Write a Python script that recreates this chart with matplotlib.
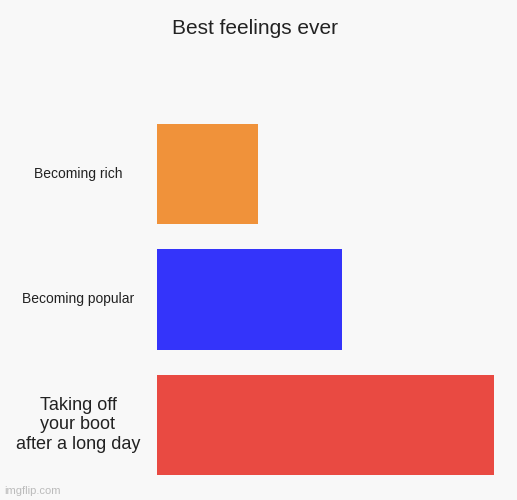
import matplotlib
matplotlib.use("Agg")
import matplotlib.pyplot as plt
import matplotlib.transforms as mt

categories = ["Becoming rich", "Becoming popular", "Taking off\nyour boot\nafter a long day"]
values = [30, 55, 100]
colors = ["#f0923a", "#3434fa", "#e94a42"]
label_sizes = [10, 10, 13]

plt.rcParams['font.family'] = ['Liberation Sans', 'DejaVu Sans']
fig = plt.figure(figsize=(5.17, 5.0), dpi=100, facecolor="#f8f8f8")
ax = fig.add_axes([157/517, 0.05, (494-157)/517, 0.702])
ax.set_facecolor("#f8f8f8")
pos = list(range(len(categories)))
ax.barh(pos, values, height=0.797, color=colors)
ax.set_xlim(0, 100)
ax.set_ylim(2.3985, -0.3985)
ax.axis("off")
tr = mt.blended_transform_factory(fig.transFigure, ax.transData)
for p, c, s in zip(pos, categories, label_sizes):
    ax.text(78/517, p, c, transform=tr, ha="center", va="center", fontsize=s, color="#222222")
fig.text(255/517, 1-28/500, "Best feelings ever", ha="center", va="center", fontsize=15, color="#222222")
fig.text(4/517, 1-491/500, "imgflip.com", ha="left", va="center", fontsize=8, color="#bbbbbb")
fig.savefig("out.png", dpi=100, facecolor=fig.get_facecolor())
